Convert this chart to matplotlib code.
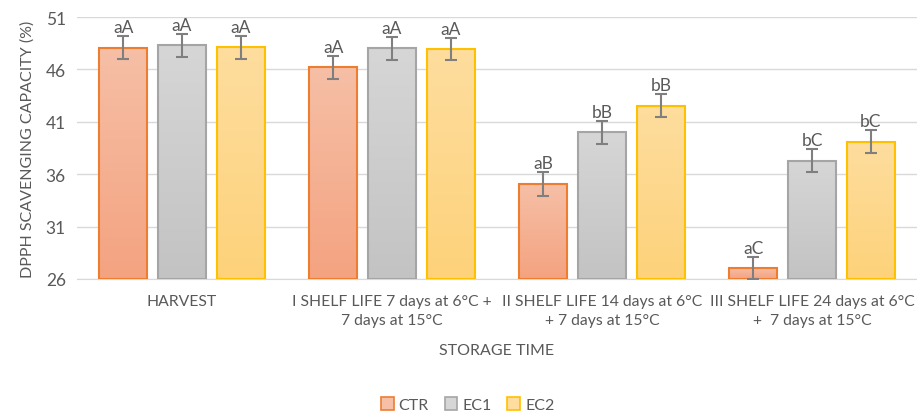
from matplotlib import pyplot as plt
from matplotlib.patches import Patch
import numpy as np

plt.rcParams['font.family'] = ['Lato', 'DejaVu Sans']

# Datos
categorias = ["HARVEST",
              "I SHELF LIFE 7 days at 6°C +\n7 days at 15°C",
              "II SHELF LIFE 14 days at 6°C\n+ 7 days at 15°C",
              "III SHELF LIFE 24 days at 6°C\n+  7 days at 15°C"]
series = ["CTR", "EC1", "EC2"]
ctr = [48.05, 46.2, 35.05, 27.05]
ec1 = [48.3, 48.0, 40.0, 37.3]
ec2 = [48.1, 47.95, 42.55, 39.1]
err_ctr = [1.1, 1.07, 1.15, 1.05]
err_ec1 = [1.1, 1.1, 1.1, 1.07]
err_ec2 = [1.07, 1.07, 1.07, 1.07]
letras_ctr = ["aA", "aA", "aB", "aC"]
letras_ec1 = ["aA", "aA", "bB", "bC"]
letras_ec2 = ["aA", "aA", "bB", "bC"]

valores = [ctr, ec1, ec2]
errores = [err_ctr, err_ec1, err_ec2]
letras = [letras_ctr, letras_ec1, letras_ec2]

bordes = ["#ED7D31", "#A5A5A5", "#FFC000"]
arriba = ["#F6BFA6", "#D6D6D6", "#FEDD9E"]
abajo = ["#F4A380", "#C3C3C3", "#FDD27A"]
gris = "#595959"

fig = plt.figure(figsize=(9.17, 4.14), dpi=100)
ax = fig.add_axes([0.084, 0.3237, 0.916, 0.6328])

x = np.arange(len(categorias))
ancho = 0.228
paso = 0.28
ymin, ymax = 26, 51

for i in range(3):
    pos = x + (i - 1) * paso
    barras = ax.bar(pos, np.array(valores[i]) - ymin, ancho, bottom=ymin,
                    color="none", edgecolor=bordes[i], linewidth=1.5, zorder=3)
    c1 = np.array(plt.matplotlib.colors.to_rgb(arriba[i]))
    c2 = np.array(plt.matplotlib.colors.to_rgb(abajo[i]))
    t = np.linspace(0, 1, 100)[:, None]
    grad = (c1 * (1 - t) + c2 * t)[:, None, :]
    for b in barras:
        bx, by = b.get_x(), b.get_y()
        w, h = b.get_width(), b.get_height()
        im = ax.imshow(grad, extent=[bx, bx + w, by, by + h], aspect="auto",
                       origin="upper", zorder=2)
        im.set_clip_path(b)
    ax.errorbar(pos, valores[i], yerr=errores[i], fmt="none", ecolor="#7F7F7F",
                elinewidth=1.5, capsize=4, capthick=1.5, zorder=4)
    for p, v, e, l in zip(pos, valores[i], errores[i], letras[i]):
        ax.text(p, v + e + 0.1, l, ha="center", va="bottom", fontsize=12.5,
                color=gris, zorder=5)

ax.set_xlim(-0.5, 3.5)
ax.set_ylim(ymin, ymax)
ax.set_yticks(np.arange(26, 52, 5))
ax.set_xticks(x)
ax.set_xticklabels(categorias, linespacing=1.4)
ax.grid(axis="y", color="#D9D9D9", linewidth=1, zorder=0)
ax.set_axisbelow(True)
for s in ["top", "right", "left"]:
    ax.spines[s].set_visible(False)
ax.spines["bottom"].set_color("#D9D9D9")
ax.tick_params(axis="y", length=0, labelsize=12.5, colors=gris, pad=8)
ax.tick_params(axis="x", length=0, labelsize=11.3, colors=gris, pad=11)
ax.set_ylabel("DPPH SCAVENGING CAPACITY (%)", fontsize=11.5, color=gris, labelpad=8)
ax.set_xlabel("STORAGE TIME", fontsize=11.5, color=gris, labelpad=12)

handles = [Patch(facecolor=arriba[i], edgecolor=bordes[i], linewidth=1.2, label=series[i])
           for i in range(3)]
fig.legend(handles=handles, loc="center", bbox_to_anchor=(0.51, 0.02), ncol=3,
           frameon=False, fontsize=11.5, labelcolor=gris, handlelength=0.8,
           handleheight=0.8, handletextpad=0.3, columnspacing=1.0)

fig.savefig("out.png", dpi=100)
